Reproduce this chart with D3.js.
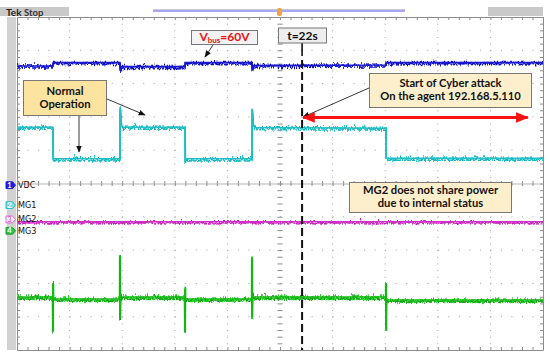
<!DOCTYPE html>
<html>
<head>
<meta charset="utf-8">
<script src="https://cdn.jsdelivr.net/npm/d3@7"></script>
<style>
body { margin: 0; background: #fff; }
svg { display: block; font-family: Lato, "Open Sans", sans-serif; }
</style>
</head>
<body>
<svg id="scope" width="550" height="360"></svg>
<script>
// traces, in divisions: [time div, level div]
let vdc = [[0, 8.53], [0.684, 8.53], [0.69, 8.63], [1.958, 8.63], [1.965, 8.39], [1.99, 8.51],
           [3.194, 8.51], [3.2, 8.63], [4.468, 8.63], [4.475, 8.40], [4.50, 8.54], [7.015, 8.56],
           [7.02, 8.63], [10, 8.63]]
let mg1 = [[0, 6.69], [0.684, 6.69], [0.69, 5.74], [1.958, 5.74], [1.962, 7.29], [1.985, 6.75],
           [2.02, 6.69], [3.194, 6.69], [3.2, 5.70], [3.23, 5.74], [4.468, 5.74], [4.472, 7.23],
           [4.495, 6.75], [4.53, 6.68], [7.015, 6.66], [7.02, 5.76], [10, 5.76]]
let mg2 = [[0, 3.85], [10, 3.85]]
let mg3 = [[0, 1.59], [0.68, 1.59], [0.684, 0.58], [0.687, 2.01], [0.69, 1.50], [0.70, 1.53],
           [1.955, 1.53], [1.958, 2.85], [1.962, 0.97], [1.966, 1.65], [1.98, 1.59],
           [3.19, 1.59], [3.194, 0.55], [3.198, 1.90], [3.20, 1.50], [3.21, 1.53],
           [4.465, 1.53], [4.468, 2.80], [4.472, 1.00], [4.476, 1.65], [4.49, 1.59],
           [7.012, 1.59], [7.015, 2.01], [7.018, 0.60], [7.022, 1.45], [7.03, 1.50], [10, 1.50]]

let channels = ["VDC", "MG1", "MG2", "MG3"]
let chanNums = ["1", "2", "3", "4"]
let chanLevels = [4.95, 4.35, 3.92, 3.58]

let cursorT = 5.42       // t=22s line
let attackEnd = 9.71     // end of the red arrow
let triggerT = 5.0

let svg = d3.select("#scope")
let x = d3.scaleLinear().domain([0, 10]).range([17, 543])
let y = d3.scaleLinear().domain([0, 10]).range([350, 17])
let minor = d3.range(0, 50.5).map(d => d / 5)

// scope noise look: vertical-only jitter of the stroke
let defs = svg.append("defs")
let addNoise = (id, seed, freq, scale) => {
    let f = defs.append("filter").attr("id", id)
        .attr("filterUnits", "userSpaceOnUse")
        .attr("x", 0).attr("y", 0).attr("width", 550).attr("height", 360)
    f.append("feTurbulence").attr("type", "turbulence")
        .attr("baseFrequency", freq).attr("numOctaves", 2).attr("seed", seed).attr("result", "t")
    f.append("feColorMatrix").attr("in", "t").attr("type", "matrix")
        .attr("values", "0 0 0 0 0.5  0 1 0 0 0.15  0 0 1 0 0  0 0 0 0 1").attr("result", "m")
    f.append("feDisplacementMap").attr("in", "SourceGraphic").attr("in2", "m")
        .attr("scale", scale).attr("xChannelSelector", "R").attr("yChannelSelector", "G")
}
addNoise("nz1", 2, "1.3 0.05", 8)
addNoise("nz2", 7, "1.1 0.05", 9)
addNoise("nz3", 11, "1.6 0.05", 7)

let mk = (id, color, size) => {
    defs.append("marker").attr("id", id)
        .attr("viewBox", "0 0 10 10").attr("refX", 9).attr("refY", 5)
        .attr("markerUnits", "userSpaceOnUse")
        .attr("markerWidth", size).attr("markerHeight", size).attr("orient", "auto-start-reverse")
        .append("path").attr("d", "M0,1 L10,5 L0,9 z").attr("fill", color)
}
mk("ah", "#111", 7)
mk("red", "#ff1010", 13)

// header bar
svg.append("rect").attr("x", 0).attr("y", 7).attr("width", 69).attr("height", 9).attr("fill", "#c9c9c9")
svg.append("rect").attr("x", 488).attr("y", 7).attr("width", 55).attr("height", 9).attr("fill", "#c9c9c9")
svg.append("text").attr("x", 6).attr("y", 15.5).attr("font-size", 10).attr("font-weight", "bold")
    .attr("fill", "#222").text("Tek")
svg.append("text").attr("x", 24).attr("y", 15.5).attr("font-size", 9.5).attr("font-weight", "bold")
    .attr("fill", "#333").text("Stop")
svg.append("line").attr("x1", 153).attr("x2", 405).attr("y1", 9.5).attr("y2", 9.5)
    .attr("stroke", "#c8c8d8").attr("stroke-width", 1)
svg.append("line").attr("x1", 153).attr("x2", 405).attr("y1", 11).attr("y2", 11)
    .attr("stroke", "#8a8af0").attr("stroke-width", 1.6)
svg.append("rect").attr("x", x(triggerT) - 3).attr("y", 8).attr("width", 5).attr("height", 8)
    .attr("rx", 2).attr("fill", "#f3a23a")

// left gray bar
svg.append("rect").attr("x", 7).attr("y", 17).attr("width", 9).attr("height", 333).attr("fill", "#d2d2d2")

// dotted grid
let g = svg.append("g")
g.selectAll(".vg").data(d3.range(1, 10).filter(d => d != 5)).enter().append("line")
    .attr("x1", d => x(d)).attr("x2", d => x(d)).attr("y1", y(10)).attr("y2", y(0))
    .attr("stroke", "#a0a0a0").attr("stroke-width", 1)
    .attr("stroke-dasharray", "1," + ((y(0) - y(10)) / 50 - 1))
g.selectAll(".hg").data(d3.range(1, 10).filter(d => d != 5)).enter().append("line")
    .attr("x1", x(0)).attr("x2", x(10)).attr("y1", d => y(d)).attr("y2", d => y(d))
    .attr("stroke", "#a0a0a0").attr("stroke-width", 1)
    .attr("stroke-dasharray", "1," + ((x(10) - x(0)) / 50 - 1))

// border and centre lines with minor ticks
let tickAxis = (axis, scale, size) => axis(scale).tickValues(minor).tickSize(size).tickSizeOuter(0).tickFormat("")
let ax = (gen, tr) => {
    let a = svg.append("g").attr("transform", tr).call(gen)
    a.selectAll("path, line").attr("stroke", "#8c8c8c")
    return a
}
ax(tickAxis(d3.axisBottom, x, 3), `translate(0,${y(10)})`)
ax(tickAxis(d3.axisTop, x, 3), `translate(0,${y(0)})`)
ax(tickAxis(d3.axisRight, y, 3), `translate(${x(0)},0)`)
ax(tickAxis(d3.axisLeft, y, 3), `translate(${x(10)},0)`)
ax(tickAxis(d3.axisBottom, x, 2.5), `translate(0,${y(5)})`).selectAll("path").attr("stroke", "#b5b5b5")
ax(tickAxis(d3.axisTop, x, 2.5), `translate(0,${y(5)})`).select("path").remove()
ax(tickAxis(d3.axisRight, y, 2.5), `translate(${x(5)},0)`).select("path").remove()
ax(tickAxis(d3.axisLeft, y, 2.5), `translate(${x(5)},0)`).select("path").remove()

// traces
let line = d3.line().x(d => x(d[0])).y(d => y(d[1]))
let trace = (data, color, width, filt, op) => {
    svg.append("path").datum(data).attr("d", line).attr("fill", "none")
        .attr("stroke", color).attr("stroke-width", width).attr("opacity", op || 1)
        .attr("filter", filt ? `url(#${filt})` : null)
}
trace(vdc, "#1a1ae0", 1.8, "nz1")
trace(vdc, "#1010b8", 1.5, "nz2")
trace(vdc, "#1818d0", 1.6)
trace(mg1, "#22c8cc", 1.8, "nz2")
trace(mg1, "#18b4bc", 1.5, "nz3")
trace(mg1, "#20c0c6", 1.5)
trace(mg2, "#e040d4", 1.8, "nz3")
trace(mg2, "#c020b4", 1.4, "nz1")
trace(mg2, "#d030c8", 1.4)
trace(mg3, "#22e022", 2.2, "nz1")
trace(mg3, "#22d822", 1.8, "nz3")
trace(mg3, "#0e8a1c", 1.3, "nz2")
trace(mg3, "#16b816", 1.5)

// channel markers
let chans = svg.append("g").selectAll("g").data(channels).enter().append("g")
    .attr("transform", (d, i) => `translate(0,${y(chanLevels[i])})`)
let mFill = ["#1c1ce0", "#84dde2", "#ffffff", "#2cc24a"]
let mStroke = ["#1c1ce0", "#25bcc4", "#e060d4", "#1e9a30"]
let mText = ["#ffffff", "#ffffff", "#e060d4", "#ffffff"]
chans.append("path").attr("d", "M6,-3.4 L12.5,-3.4 L15.5,0 L12.5,3.4 L6,3.4 Z")
    .attr("fill", (d, i) => mFill[i]).attr("stroke", (d, i) => mStroke[i]).attr("stroke-width", 1)
chans.append("text").attr("x", 9.5).attr("y", 2.6).attr("text-anchor", "middle")
    .attr("font-size", 7.5).attr("font-weight", "bold").attr("fill", (d, i) => mText[i])
    .text((d, i) => chanNums[i])
chans.append("text").attr("x", 18).attr("y", 3).attr("font-size", 9)
    .attr("font-family", "DejaVu Sans Condensed, sans-serif").attr("fill", "#111").text(d => d)

// t=22s cursor
svg.append("line").attr("x1", x(cursorT)).attr("x2", x(cursorT)).attr("y1", 43).attr("y2", 56)
    .attr("stroke", "#111").attr("stroke-width", 1.6)
svg.append("line").attr("x1", x(cursorT)).attr("x2", x(cursorT)).attr("y1", 60).attr("y2", y(0))
    .attr("stroke", "#111").attr("stroke-width", 2).attr("stroke-dasharray", "8,4")

// annotation boxes
let box = (x0, y0, w, h, fill, lines, base, size, color) => {
    svg.append("rect").attr("x", x0).attr("y", y0).attr("width", w).attr("height", h)
        .attr("fill", fill).attr("stroke", "#777").attr("stroke-width", 1)
    lines.forEach((t, i) => {
        svg.append("text").attr("x", x0 + w / 2).attr("y", base[i]).attr("text-anchor", "middle")
            .attr("font-size", size).attr("font-weight", "bold").attr("fill", color || "#111").text(t)
    })
}
box(278.5, 28, 48, 15, "#eeeeee", ["t=22s"], [39.5], 12)
box(23.5, 80.5, 83, 35, "#fde3a0", ["Normal", "Operation"], [94.5, 108], 11.2)
box(369.5, 73.5, 162, 34, "#fdefcb", ["Start of Cyber attack", "On the agent 192.168.5.110"], [86.5, 100], 11.2)
box(349.5, 182.5, 162, 30, "#fdefcb", ["MG2 does not share power", "due to internal status"], [193.5, 207], 11.2)

svg.append("rect").attr("x", 191.5).attr("y", 30.5).attr("width", 66).attr("height", 14)
    .attr("fill", "#f3f3f3").attr("stroke", "#777")
let vb = svg.append("text").attr("x", 224.5).attr("y", 41).attr("text-anchor", "middle")
    .attr("font-weight", "bold").attr("fill", "#ee1111")
vb.append("tspan").attr("font-size", 12).text("V")
vb.append("tspan").attr("font-size", 8).attr("dy", 1.5).text("bus")
vb.append("tspan").attr("font-size", 12).attr("dy", -1.5).text("=60V")

// arrows
let arrow = (x1, y1, x2, y2) => svg.append("line").attr("x1", x1).attr("y1", y1).attr("x2", x2).attr("y2", y2)
    .attr("stroke", "#222").attr("stroke-width", 0.9).attr("marker-end", "url(#ah)")
arrow(213, 45, 205, 57)
arrow(79, 116, 79, 152)
arrow(107, 99, 145, 115)
arrow(369, 88, x(cursorT) + 1, 117)

svg.append("line").attr("x1", x(cursorT) + 1).attr("x2", x(attackEnd)).attr("y1", 117.5).attr("y2", 117.5)
    .attr("stroke", "#ff1010").attr("stroke-width", 3)
    .attr("marker-start", "url(#red)").attr("marker-end", "url(#red)")
</script>
</body>
</html>
